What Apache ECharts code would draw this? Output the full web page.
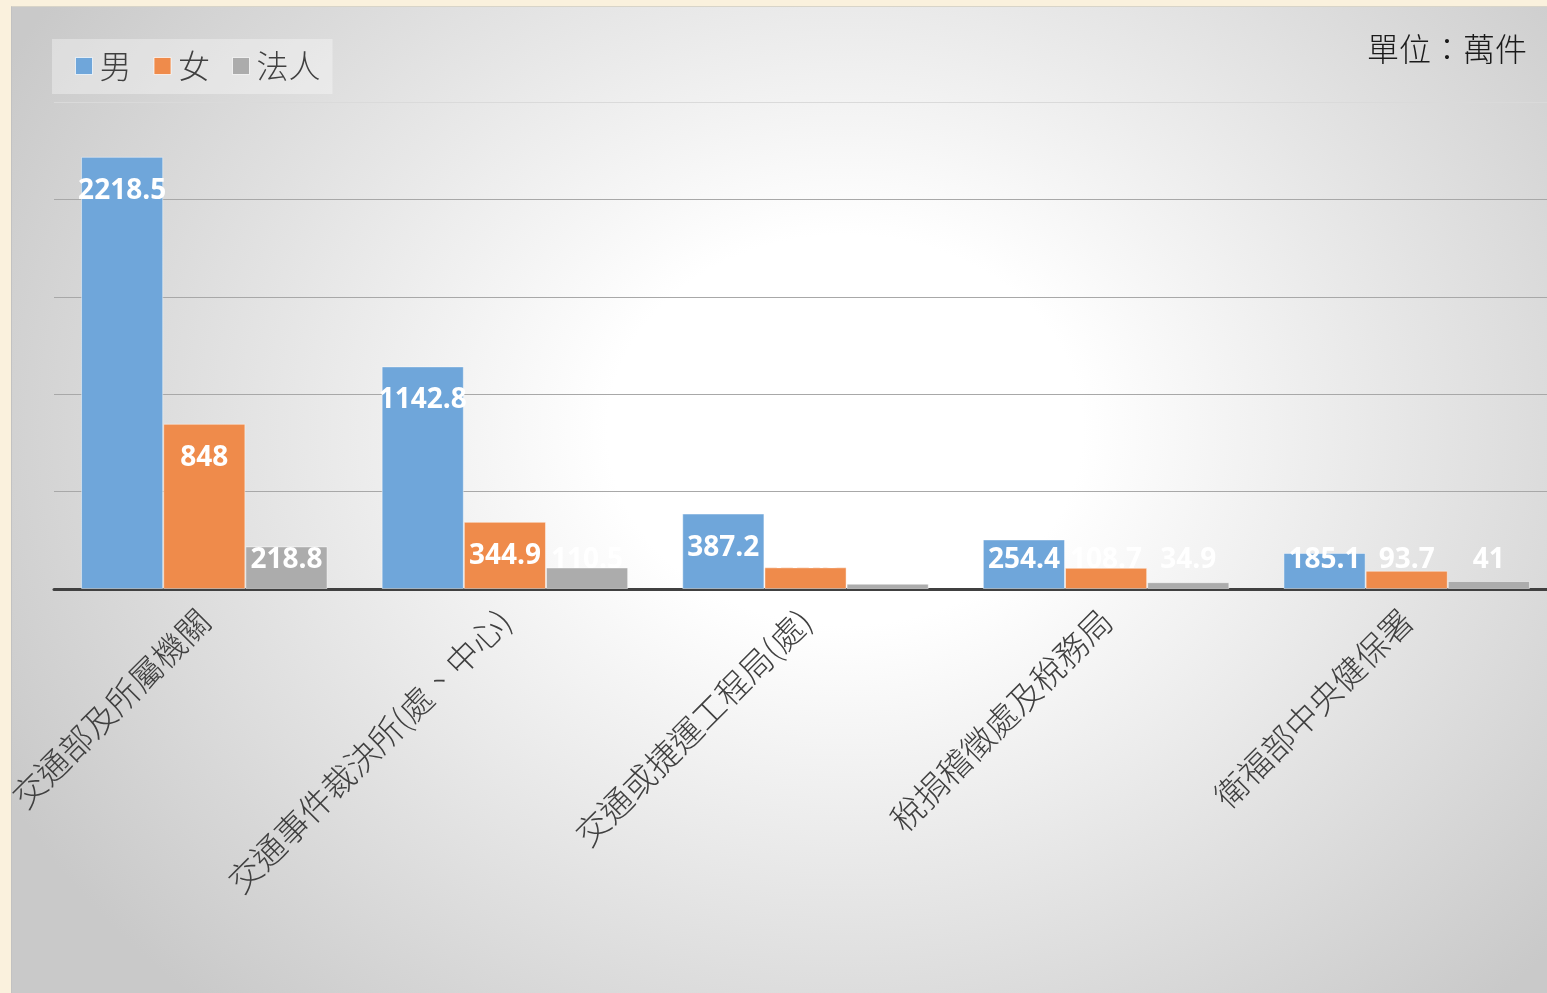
<!DOCTYPE html>
<html>
<head>
<meta charset="utf-8">
<script src="https://cdn.jsdelivr.net/npm/echarts@6/dist/echarts.min.js"></script>
<style>
html,body{margin:0;padding:0;width:1547px;height:993px;overflow:hidden;background:#faf1dd;}
#frame{position:absolute;left:11px;top:6px;width:1536px;height:987px;overflow:hidden;
  border-left:1px solid #c2c2c2;border-top:1px solid #d8d4c8;
  background:radial-gradient(ellipse 950px 780px at 833px 423px, #ffffff 0%, #ffffff 25%, #f4f4f4 40%, #e2e2e2 65%, #c9c9c9 100%);}
#chart{position:absolute;left:0;top:0;width:1560px;height:987px;}
</style>
</head>
<body>
<div id="frame"><div id="chart"></div></div>
<script>
const categories = ['交通部及所屬機關','交通事件裁決所(處、中心)','交通或捷運工程局(處)','稅捐稽徵處及稅務局','衛福部中央健保署'];
const seriesNames = ['男','女','法人'];
const maleValues = [2218.5, 1142.8, 387.2, 254.4, 185.1];
const femaleValues = [848, 344.9, 111.3, 108.7, 93.7];
const corpValues = [218.8, 110.5, 27, 34.9, 41];
const yTicks = [0, 500, 1000, 1500, 2000, 2500];
const colors = ['#6fa6da', '#ef8b4b', '#acacac'];

const labelClamp = 315; // below this, label sits at a fixed height above the axis
function makeData(arr){
  return arr.map(v => v >= labelClamp
    ? {value: v, label: {position: 'insideTop', distance: 20}}
    : {value: v, label: {position: 'insideBottom', distance: 15}});
}
const allValues = [maleValues, femaleValues, corpValues];

const chart = echarts.init(document.getElementById('chart'));
chart.setOption({
  backgroundColor: 'transparent',
  animation: false,
  color: colors,
  graphic: [{
    type: 'text', left: 1355, top: 26,
    style: {text: '單位：萬件', font: '300 32px "Noto Sans CJK TC"', fill: '#1a1a1a'}
  }],
  legend: {
    left: 40, top: 32,
    data: seriesNames,
    backgroundColor: 'rgba(255,255,255,0.35)',
    padding: [11, 12, 12, 23],
    itemGap: 22, itemWidth: 17, itemHeight: 17,
    icon: 'rect',
    itemStyle: {borderColor: 'rgba(255,255,255,0.7)', borderWidth: 1},
    textStyle: {fontSize: 32, color: '#404040', fontFamily: 'Noto Sans CJK TC', fontWeight: 300, padding: [0,0,0,2]}
  },
  grid: {left: 42, right: 15, top: 95, bottom: 405, containLabel: false, outerBoundsMode: 'none'},
  xAxis: {
    type: 'category', data: categories,
    axisLine: {lineStyle: {color: '#404040', width: 3}},
    axisTick: {show: false},
    axisLabel: {rotate: 45, margin: 26, fontSize: 33, color: '#404040',
      fontFamily: 'Noto Sans CJK TC', fontWeight: 300, interval: 0}
  },
  yAxis: {
    type: 'value', min: yTicks[0], max: yTicks[yTicks.length-1], interval: yTicks[1]-yTicks[0],
    axisLabel: {show: false}, axisLine: {show: false}, axisTick: {show: false},
    splitLine: {lineStyle: {color: ['#a8a8a8','#a8a8a8','#a8a8a8','#a8a8a8','#a8a8a8','#dadada'], width: 1.2}}
  },
  series: seriesNames.map((n, i) => ({
    name: n, type: 'bar',
    data: makeData(allValues[i]),
    barGap: '0%', barCategoryGap: '18%',
    itemStyle: {borderColor: 'rgba(255,255,255,0.45)', borderWidth: 1},
    label: {show: true, color: '#ffffff', fontSize: 28, fontWeight: 700,
      fontFamily: 'Open Sans'}
  }))
});
</script>
</body>
</html>
